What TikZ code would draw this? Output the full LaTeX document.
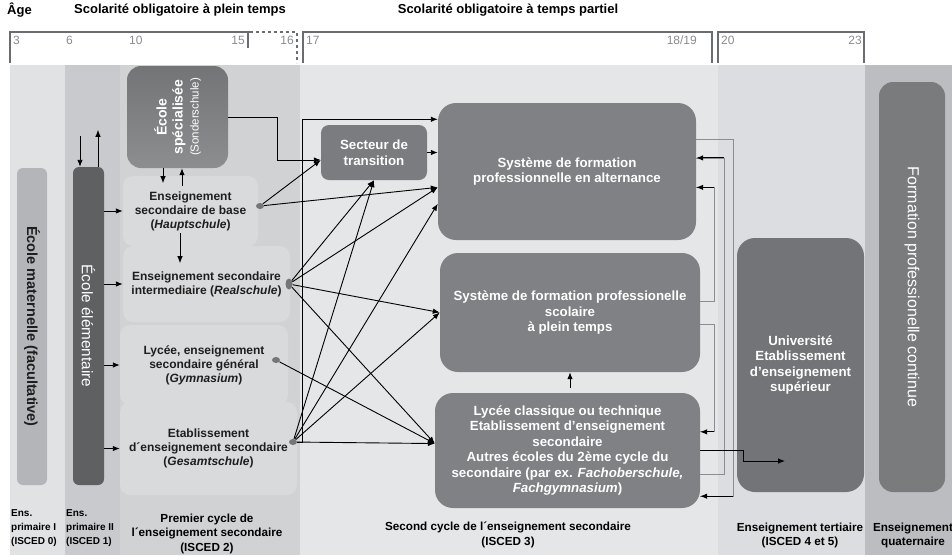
\documentclass[tikz,border=0pt]{standalone}
\usepackage{fontspec}
\setmainfont{Liberation Sans}
\usetikzlibrary{arrows.meta,positioning,shapes.geometric}
\definecolor{colA}{HTML}{E1E2E4}
\definecolor{colB}{HTML}{C8CACD}
\definecolor{colC}{HTML}{D1D2D4}
\definecolor{colD}{HTML}{E5E6E8}
\definecolor{colE}{HTML}{DCDDE0}
\definecolor{colF}{HTML}{BBBDC0}
\definecolor{lightreg}{HTML}{D9DADC}
\definecolor{boxgrey}{HTML}{808184}
\definecolor{unigrey}{HTML}{737477}
\definecolor{matgrey}{HTML}{B3B5B8}
\definecolor{elemgrey}{HTML}{5F6062}
\definecolor{linegrey}{HTML}{8C8D90}
\definecolor{ageline}{HTML}{6B6C6F}
\definecolor{agegrey}{HTML}{8A8B8E}
\definecolor{jointgrey}{HTML}{75767A}
\definecolor{textdark}{HTML}{1E1E1E}
\tikzset{
		darkbox/.style  = {rectangle, rounded corners=18, fill=boxgrey, text=white, align=center,
			inner sep=0, font=\bfseries\fontsize{13.3}{15.5}\selectfont},
		lightbox/.style = {rectangle, rounded corners=10, fill=lightreg, text=textdark, align=center,
			inner sep=0, font=\bfseries\fontsize{12}{14}\selectfont},
		joint/.style    = {ellipse, fill=jointgrey, minimum width=8, minimum height=6, inner sep=0},
		arr/.style      = {-{Latex[length=7pt,width=5.5pt]}, line width=0.9pt, black},
		greyline/.style = {line width=0.8pt, draw=linegrey},
		agebox/.style   = {line width=1.2pt, draw=ageline},
		agenum/.style   = {text=agegrey, inner sep=0, font=\fontsize{12}{14}\selectfont},
		isced/.style    = {align=center, inner sep=0, font=\bfseries\fontsize{11.7}{14.5}\selectfont},
		header/.style   = {inner sep=0, font=\bfseries\fontsize{13}{15}\selectfont}
	}
\begin{document}
\begin{tikzpicture}[x=1pt,y=-1pt]
		\useasboundingbox (0,0) rectangle (952,555);
		% background columns, one per level
		\fill[colA] (10,65) rectangle (65,555);
		\fill[colB] (65,65) rectangle (120,555);
		\fill[colC] (120,65) rectangle (300,555);
		\fill[colD] (300,65) rectangle (718,555);
		\fill[colE] (718,65) rectangle (865,555);
		\fill[colF] (865,65) rectangle (952,555);
		% age scale
		\node[header, anchor=west] (agetitle) at (7,10) {Âge};
		\node[header] (plein) at (180,10) {Scolarité obligatoire à plein temps};
		\node[header] (partiel) at (508,10) {Scolarité obligatoire à temps partiel};
		\draw[agebox] (10,63) |- (250,32);
		\draw[agebox,dashed] (250,32) -| (297,63);
		\draw[agebox] (248,32) -- (248,48);
		\draw[agebox] (303,63) |- (712,32) -- (712,63);
		\draw[agebox] (718,63) |- (864,32) -- (864,63);
		\foreach \x/\t in {13/3,66/6,129/10,306/17,721/20}
		\node[agenum, anchor=west] (age\t) at (\x,40) {\t};
		\foreach \x/\t in {245/15,294/16,862/23}
		\node[agenum, anchor=east] (age\t) at (\x,40) {\t};
		\node[agenum, anchor=east] (age18) at (697,40) {18/19};
		% primary level
		\node[rectangle, rounded corners=6, fill=matgrey, minimum width=30, minimum height=317,
		label={[rotate=-90, text=textdark, font=\bfseries\fontsize{14.5}{16}\selectfont]center:École maternelle (facultative)}]
		(maternelle) at (32,326.5) {};
		\node[rectangle, rounded corners=6, fill=elemgrey, minimum width=31, minimum height=318,
		label={[rotate=-90, text=white, font=\fontsize{15.3}{17}\selectfont]center:École élémentaire}]
		(elementaire) at (88.5,326) {};
		% lower secondary
		\node[rectangle, rounded corners=14, top color=unigrey, bottom color=boxgrey!90!white,
		minimum width=101, minimum height=102,
		label={[rotate=90, text=white, align=center, font=\bfseries\fontsize{14}{16}\selectfont]center:{École\\spécialisée\\{\mdseries\fontsize{11.5}{14}\selectfont(Sonderschule)}}}]
		(specialisee) at (177.5,117) {};
		\node[lightbox, minimum width=135, minimum height=70] (base) at (190.5,211)
		{Enseignement\\secondaire de base\\(\textit{Hauptschule})};
		\node[lightbox, minimum width=167, minimum height=76] (interm) at (206.5,284)
		{Enseignement secondaire\\intermediaire (\textit{Realschule})};
		\node[lightbox, minimum width=168, minimum height=80] (gymn) at (204,365)
		{Lycée, enseignement\\secondaire général\\(\textit{Gymnasium})};
		\node[lightbox, minimum width=177, minimum height=93] (gesamt) at (208.5,448.5)
		{Etablissement\\d´enseignement secondaire\\(\textit{Gesamtschule})};
		\node[joint] (jB) at (260,206) {};
		\node[joint, minimum width=7, minimum height=11] (jR) at (289,284) {};
		\node[joint] (jG) at (276,360) {};
		\node[joint] (jE) at (293,442) {};
		% upper secondary
		\node[darkbox, rounded corners=8, fill=boxgrey!96!black, minimum width=106, minimum height=55]
		(secteur) at (374,152.5) {Secteur de\\transition};
		\node[darkbox, minimum width=258, minimum height=137] (alternance) at (567,171.5)
		{Système de formation\\professionnelle en alternance};
		\node[darkbox, minimum width=260, minimum height=119] (scolaire) at (570,312.5)
		{Système de formation professionelle\\scolaire\\à plein temps};
		\node[darkbox, minimum width=265, minimum height=115] (lycee) at (567.5,450.5)
		{Lycée classique ou technique\\Etablissement d'enseignement\\secondaire\\Autres écoles du 2ème cycle du\\secondaire (par ex. \textit{Fachoberschule,}\\\textit{Fachgymnasium})};
		% tertiary and quaternary
		\node[darkbox, fill=unigrey, minimum width=127, minimum height=254]
		(univ) at (800.5,365) {Université\\Etablissement\\d'enseignement\\supérieur};
		\node[rectangle, rounded corners=14, fill=boxgrey!95!black, minimum width=66, minimum height=410,
		label={[rotate=-90, text=white, font=\fontsize{16}{18}\selectfont]center:Formation professionelle continue}]
		(continue) at (912,287) {};
		\coordinate (uin) at (785,461);
		% arrows round the primary school
		\draw[arr] ([xshift=-8.5pt]elementaire.north) ++(0,-31) -- ++(0,31);
		\draw[arr] ([xshift=9.5pt]elementaire.north) -- ++(0,-37);
		\foreach \n in {base,interm,gymn,gesamt}
		\draw[arr] (elementaire.east |- \n.west) -- (\n.west);
		\draw[arr] ([xshift=-14.5pt]specialisee.south) -- ++(0,15);
		\draw[arr] ([xshift=4.5pt]specialisee.south) ++(0,18) -- ++(0,-18);
		\draw[arr] ([xshift=-10.5pt,yshift=13pt]base.south) -- ++(0,30);
		% transitions to the second cycle
		\draw[arr] (specialisee.east) -- ++(49,0) |- (secteur.188);
		\draw[arr] (jE.east) -- ++(5,0) |- (alternance.158);
		\draw[arr] (secteur.east) -- (alternance.west |- secteur.east);
		\foreach \t in {secteur.188, alternance.187}
		\draw[arr] (jB) -- (\t);
		\foreach \t in {secteur.south, alternance.187, scolaire.west, lycee.177}
		\draw[arr] (jR) -- (\t);
		\draw[arr] (jG) -- (lycee.177);
		\foreach \t in {secteur.south, alternance.194, scolaire.west, lycee.177}
		\draw[arr] (jE) -- (\t);
		\draw[arr] (scolaire.south) ++(0,16) -- (scolaire.south);
		% links on the right side
		\draw[greyline] (alternance.14) -- ++(37,0) |- (lycee.341);
		\draw[arr] (lycee.341) ++(33,0) -- (lycee.341);
		\draw[greyline] (lycee.350) -- ++(24,0) |- (alternance.6);
		\draw[arr] (alternance.6) ++(28,0) -- (alternance.6);
		\draw[greyline] (scolaire.5) -- ++(14,0) |- (alternance.353);
		\draw[arr] (alternance.353) ++(18,0) -- (alternance.353);
		\draw[greyline] (scolaire.355) -- ++(14,0) |- (lycee.8);
		\draw[arr] (lycee.8) ++(14,0) -- (lycee.8);
		\draw[arr] (lycee.east) -- ++(43,0) |- (uin);
		% ISCED levels
		\node[isced, anchor=north west, align=left, font=\bfseries\fontsize{10}{14}\selectfont]
		(isced0) at (11,509) {Ens.\\primaire I\\(ISCED 0)};
		\node[isced, anchor=north west, align=left, font=\bfseries\fontsize{10}{14}\selectfont]
		(isced1) at (66,509) {Ens.\\primaire II\\(ISCED 1)};
		\node[isced] (isced2) at (207,533.5) {Premier cycle de\\l´enseignement secondaire\\(ISCED 2)};
		\node[isced] (isced3) at (508,535) {Second cycle de l´enseignement secondaire\\(ISCED 3)};
		\node[isced] (isced45) at (800,535.5) {Enseignement tertiaire\\(ISCED 4 et 5)};
		\node[isced] (isced6) at (913,535.5) {Enseignement\\quaternaire};
	\end{tikzpicture}
\end{document}
